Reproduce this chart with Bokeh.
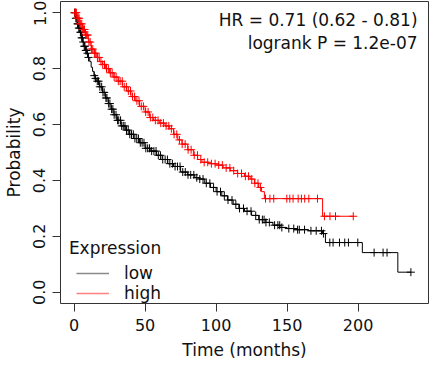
import numpy as np
from bokeh.plotting import figure
from bokeh.models import Range1d, Label, Legend, LegendItem, FixedTicker, NumeralTickFormatter
from bokeh.embed import file_html
from bokeh.resources import INLINE

# ---- data ----
low_time = [0, 1, 2, 3, 4, 5, 6, 7, 8, 9, 10, 11, 12, 13, 14, 15, 16, 18, 20, 22, 24, 26, 28, 30,
            33, 36, 39, 42, 46, 50, 54, 58, 62, 66, 70, 75, 80, 85, 88, 92, 96, 100, 104, 108,
            112, 116, 120, 125, 130, 135, 140, 145, 150, 155, 165, 175, 177, 203, 228]
low_surv = [1.0, 0.98, 0.96, 0.945, 0.93, 0.91, 0.895, 0.88, 0.865, 0.855, 0.84, 0.825, 0.805,
            0.79, 0.775, 0.765, 0.755, 0.735, 0.715, 0.695, 0.675, 0.655, 0.635, 0.615, 0.595,
            0.58, 0.565, 0.55, 0.535, 0.515, 0.505, 0.49, 0.475, 0.46, 0.45, 0.43, 0.42, 0.41,
            0.405, 0.39, 0.375, 0.36, 0.345, 0.33, 0.315, 0.30, 0.29, 0.275, 0.26, 0.25, 0.24,
            0.232, 0.228, 0.224, 0.22, 0.21, 0.178, 0.142, 0.072]
low_censor = [0.3, 0.8, 1.2, 1.9, 2.4, 2.8, 3.3, 3.9, 4.4, 4.8, 5.3, 5.9, 6.4, 7.1, 7.6, 8.2, 8.8,
              9.4, 10.1, 14.2, 15.1, 16.3, 17.2, 18.1, 19.4, 20.3, 21.2, 22.4, 23.1, 24.3, 25.2,
              26.4, 27.3, 28.2, 29.5, 30.6, 31.4, 32.7, 33.5, 34.6, 35.8, 36.9, 38.1, 39.2, 40.4,
              41.7, 42.8, 44.1, 45.3, 46.6, 47.9, 49.2, 50.5, 51.8, 53.1, 54.6, 56.2, 57.7, 59.3,
              60.8, 62.4, 64.1, 65.7, 67.4, 69.2, 71.1, 72.8, 74.6, 76.5, 78.3, 80.2, 82.1, 84.3,
              86.4, 88.5, 90.8, 93.1, 95.6, 98.2, 100.7, 103.1, 105.8, 108.4, 111.2, 113.9, 116.5,
              119.3, 121.8, 124.6, 127.9, 130.4, 132.6, 133.8, 135.1, 137.5, 141.2, 143.5, 144.8,
              146.3, 151.2, 154.7, 157.4, 158.6, 162.3, 166.8, 170.5, 174.2, 175.6, 180.1, 182.4,
              186.9, 190.6, 193.2, 199.8, 211.3, 217.6, 220.4, 237.2]

high_time = [0, 2, 4, 6, 8, 10, 12, 14, 16, 18, 20, 22, 25, 28, 31, 34, 37, 40, 43, 46, 50, 53,
             56, 60, 64, 67, 70, 73, 76, 80, 84, 87, 90, 95, 100, 105, 110, 115, 120, 124, 127,
             130, 132, 134, 175]
high_surv = [1.0, 0.98, 0.96, 0.94, 0.92, 0.895, 0.87, 0.855, 0.84, 0.825, 0.815, 0.80, 0.785,
             0.77, 0.755, 0.735, 0.72, 0.70, 0.685, 0.665, 0.645, 0.625, 0.615, 0.605, 0.595,
             0.585, 0.565, 0.545, 0.53, 0.51, 0.49, 0.475, 0.465, 0.46, 0.455, 0.445, 0.435,
             0.425, 0.415, 0.405, 0.39, 0.375, 0.36, 0.335, 0.272]
high_censor = [0.4, 1.0, 1.6, 2.2, 2.9, 3.5, 4.1, 4.7, 5.4, 6.0, 6.7, 7.3, 8.1, 8.8, 9.6, 10.4,
               11.3, 12.2, 13.1, 14.3, 15.2, 16.4, 17.6, 18.9, 20.1, 21.4, 22.8, 24.1, 25.5, 26.8,
               28.2, 29.6, 31.1, 32.4, 33.9, 35.3, 36.8, 38.2, 39.7, 41.1, 42.6, 44.2, 45.7, 47.3,
               48.8, 50.4, 52.1, 53.7, 55.4, 57.2, 59.1, 61.0, 62.9, 64.8, 66.7, 68.5, 70.4, 72.3,
               74.2, 76.1, 78.2, 80.3, 82.4, 84.6, 86.9, 89.2, 91.6, 94.1, 96.7, 99.3, 101.8,
               104.4, 107.1, 109.7, 112.4, 115.2, 117.9, 120.6, 122.8, 125.1, 127.3, 129.5, 131.2,
               134.8, 137.9, 140.6, 149.8, 151.9, 154.2, 157.8, 160.1, 162.4, 165.3, 171.4, 176.3,
               180.2, 184.1, 196.6]

x_ticks = [0, 50, 100, 150, 200]
y_ticks = [0.0, 0.2, 0.4, 0.6, 0.8, 1.0]
series_labels = ["low", "high"]
legend_title = "Expression"
hr_text = "HR = 0.71 (0.62 - 0.81)"
p_text = "logrank P = 1.2e-07"
FONT = "DejaVu Sans"


def km(times, surv, cens):
    t = np.asarray(times, float)
    s = np.asarray(surv, float)
    c = np.asarray(cens, float)
    idx = np.searchsorted(t, c, side="right") - 1
    cy = s[idx]
    xs = np.append(t, c.max())
    ys = np.append(s, s[-1])
    return xs, ys, c, cy


p = figure(frame_width=368, frame_height=302, output_backend="svg", toolbar_location=None,
           x_range=Range1d(-9.6, 249.6), y_range=Range1d(-0.04, 1.04),
           min_border_left=51, min_border_right=1, min_border_top=1, min_border_bottom=0)
p.xgrid.visible = False
p.ygrid.visible = False
p.outline_line_color = "#333333"
p.outline_line_width = 1
p.background_fill_color = "white"
p.border_fill_color = "white"

for ax in (p.xaxis[0], p.yaxis[0]):
    ax.axis_line_color = None
    ax.major_tick_out = 8
    ax.major_tick_in = 0
    ax.minor_tick_out = 0
    ax.minor_tick_in = 0
    ax.major_tick_line_color = "#333333"
    ax.major_label_text_font = FONT
    ax.major_label_text_font_size = "16px"
    ax.major_label_text_color = "#111111"
    ax.axis_label_text_font = FONT
    ax.axis_label_text_font_size = "17px"
    ax.axis_label_text_font_style = "normal"
    ax.axis_label_text_color = "#111111"

p.xaxis.ticker = FixedTicker(ticks=x_ticks)
p.yaxis.ticker = FixedTicker(ticks=y_ticks)
p.yaxis.formatter = NumeralTickFormatter(format="0.0")
p.yaxis.major_label_orientation = "vertical"
p.xaxis.axis_label = "Time (months)"
p.yaxis.axis_label = "Probability"
p.xaxis.major_label_standoff = 7
p.yaxis.major_label_standoff = 7
p.xaxis.axis_label_standoff = 6
p.yaxis.axis_label_standoff = 7

colors = ["black", "red"]
legend_colors = ["#8a8a8a", "#ff8080"]
legend_items = []
for (times, surv, cens), col, lcol, lab in zip([(low_time, low_surv, low_censor),
                                                (high_time, high_surv, high_censor)],
                                               colors, legend_colors, series_labels):
    xs, ys, cx, cy = km(times, surv, cens)
    p.step(xs, ys, mode="after", line_color=col, line_width=1)
    p.scatter(cx, cy, marker="cross", size=8, line_color=col, line_width=1)
    leg_r = p.line(x=[np.nan], y=[np.nan], line_color=lcol, line_width=1.5)
    legend_items.append(LegendItem(label=lab, renderers=[leg_r]))

legend = Legend(items=legend_items,
                location=(16, 0), margin=0, padding=0, spacing=0,
                glyph_width=33, glyph_height=20, label_height=20, label_standoff=15,
                label_text_font=FONT, label_text_font_size="17px", label_text_color="#111111",
                border_line_color=None, background_fill_alpha=0)
p.add_layout(legend)

p.add_layout(Label(x=-3.7, y=0.16, text=legend_title, text_align="left", text_baseline="middle",
                   text_font=FONT, text_font_size="17px", text_color="#111111"))
p.add_layout(Label(x=241.9, y=0.975, text=hr_text, text_align="right", text_baseline="middle",
                   text_font=FONT, text_font_size="17px", text_color="#111111"))
p.add_layout(Label(x=241.9, y=0.893, text=p_text, text_align="right", text_baseline="middle",
                   text_font=FONT, text_font_size="17px", text_color="#111111"))

open("out.html", "w").write(file_html(p, INLINE))
